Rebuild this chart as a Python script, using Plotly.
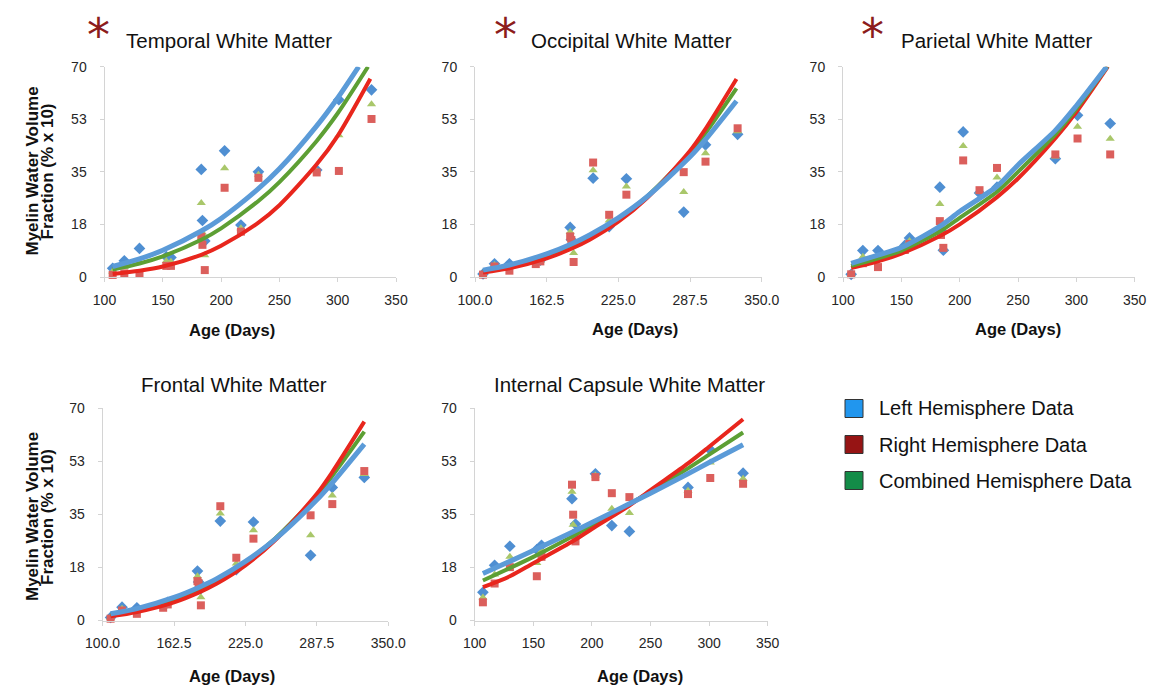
import plotly.graph_objects as go

W, H = 1157, 689

# ---------------- data ----------------
DAYS = [107, 117, 130, 153, 157, 183, 184, 186, 203, 217, 232, 282, 301, 329]

TEMPORAL_LEFT = [2.9, 5.4, 9.5, 6.8, 6.5, 35.8, 18.8, 12.0, 42.0, 17.3, 35.0, 35.6, 59.0, 62.3]
TEMPORAL_RIGHT = [0.7, 1.2, 1.0, 3.7, 3.7, 13.4, 10.7, 2.3, 29.7, 15.1, 33.0, 34.8, 35.3, 52.6]
TEMPORAL_COMBINED = [1.8, 3.3, 5.2, 5.3, 5.1, 24.6, 14.7, 7.2, 36.2, 16.2, 34.0, 35.2, 47.2, 57.5]

OCCIPITAL_LEFT = [1.0, 4.4, 4.4, 5.0, 5.6, 16.5, 12.4, 11.0, 32.9, 16.8, 32.7, 21.6, 44.0, 47.5]
OCCIPITAL_RIGHT = [0.8, 3.5, 2.1, 4.3, 5.2, 13.5, 12.3, 5.0, 38.1, 20.7, 27.4, 34.9, 38.4, 49.5]
OCCIPITAL_COMBINED = [0.9, 4.0, 3.3, 4.7, 5.4, 15.0, 12.4, 8.0, 35.5, 18.8, 30.1, 28.3, 41.2, 48.5]

PARIETAL_LEFT = [0.9, 8.8, 8.8, 10.5, 13.0, 29.9, 15.5, 8.9, 48.3, 28.0, 29.9, 39.4, 53.8, 51.1]
PARIETAL_RIGHT = [0.9, 4.6, 3.3, 9.0, 11.0, 18.6, 14.0, 9.7, 38.8, 28.9, 36.3, 40.8, 46.1, 40.8]
PARIETAL_COMBINED = [0.9, 6.7, 6.0, 9.8, 12.0, 24.3, 14.8, 9.3, 43.6, 28.5, 33.1, 40.1, 50.0, 46.0]

FRONTAL_LEFT = [1.0, 4.4, 4.2, 5.0, 6.0, 16.3, 12.7, 10.5, 32.8, 16.8, 32.5, 21.5, 43.9, 47.2]
FRONTAL_RIGHT = [0.6, 3.3, 2.2, 4.2, 5.3, 13.0, 12.3, 5.0, 37.7, 20.7, 27.0, 34.7, 38.4, 49.3]
FRONTAL_COMBINED = [0.8, 3.9, 3.2, 4.6, 5.6, 14.6, 12.5, 7.7, 35.3, 18.8, 29.8, 28.1, 41.2, 48.3]

CAPSULE_LEFT = [9.3, 18.2, 24.5, 23.4, 24.8, 40.2, 28.3, 31.8, 48.4, 31.3, 29.4, 43.9, 56.3, 48.6]
CAPSULE_RIGHT = [6.0, 12.2, 17.6, 14.6, 21.0, 44.8, 34.9, 26.1, 47.3, 42.0, 40.7, 41.7, 47.0, 45.1]
CAPSULE_COMBINED = [7.6, 15.2, 21.0, 19.0, 22.9, 42.5, 31.6, 29.0, 47.8, 36.9, 35.5, 42.8, 52.1, 46.8]

# trend lines (read at several ages)
TEMPORAL_FIT_LEFT_X = [107, 130, 150, 183, 200, 232, 250, 282, 300, 318]
TEMPORAL_FIT_LEFT = [3.5, 6.0, 8.9, 15.3, 19.5, 29.4, 36.0, 50.3, 59.6, 70.0]
TEMPORAL_FIT_RIGHT_X = [107, 130, 150, 183, 200, 232, 250, 282, 300, 328]
TEMPORAL_FIT_RIGHT = [1.0, 2.1, 3.5, 7.4, 10.4, 18.1, 23.9, 37.5, 47.0, 66.0]
TEMPORAL_FIT_COMBINED_X = [107, 130, 150, 183, 200, 232, 250, 282, 300, 326]
TEMPORAL_FIT_COMBINED = [2.5, 4.5, 6.9, 12.4, 16.2, 25.3, 31.6, 45.3, 54.5, 70.0]

OCCIPITAL_FIT_X = [107, 130, 162.5, 184, 200, 225, 250, 287.5, 300, 328]
OCCIPITAL_FIT_LEFT = [2.3, 4.0, 7.7, 11.0, 14.0, 19.7, 26.7, 40.0, 45.3, 58.6]
OCCIPITAL_FIT_RIGHT = [1.5, 2.9, 6.2, 9.4, 12.4, 18.4, 26.3, 42.0, 48.7, 65.9]
OCCIPITAL_FIT_COMBINED = [1.9, 3.5, 7.0, 10.3, 13.4, 19.3, 26.8, 41.4, 47.4, 62.8]

PARIETAL_FIT_LEFT_X = [107, 130, 150, 184, 200, 232, 250, 282, 300, 326]
PARIETAL_FIT_LEFT = [4.5, 7.3, 9.8, 17.1, 21.8, 30.2, 37.3, 48.8, 57.0, 70.0]
PARIETAL_FIT_RIGHT_X = [107, 130, 150, 184, 200, 232, 250, 282, 300, 327]
PARIETAL_FIT_RIGHT = [3.0, 5.2, 7.8, 13.8, 17.5, 26.6, 32.8, 46.2, 54.9, 70.0]
PARIETAL_FIT_COMBINED_X = [107, 130, 150, 184, 200, 232, 250, 282, 300, 326.5]
PARIETAL_FIT_COMBINED = [3.7, 6.2, 8.8, 15.4, 19.7, 28.4, 35.0, 47.5, 56.0, 70.0]

FRONTAL_FIT_X = [107, 130, 162.5, 184, 200, 225, 250, 287.5, 300, 329]
FRONTAL_FIT_LEFT = [2.2, 3.9, 7.6, 10.9, 13.8, 19.5, 26.5, 39.8, 45.0, 58.2]
FRONTAL_FIT_RIGHT = [1.4, 2.8, 6.0, 9.2, 12.2, 18.2, 26.1, 41.8, 48.4, 65.6]
FRONTAL_FIT_COMBINED = [1.8, 3.4, 6.9, 10.2, 13.3, 19.2, 26.7, 41.2, 47.2, 62.3]

CAPSULE_FIT_X = [107, 130, 150, 184, 200, 232, 250, 282, 300, 329]
CAPSULE_FIT_LEFT = [15.5, 19.5, 23.1, 29.3, 32.3, 38.5, 42.0, 48.4, 52.1, 58.0]
CAPSULE_FIT_RIGHT = [11.0, 14.6, 18.9, 26.2, 30.2, 37.9, 43.0, 51.8, 57.3, 66.4]
CAPSULE_FIT_COMBINED = [13.2, 17.3, 21.0, 27.9, 31.3, 38.4, 42.5, 50.2, 54.7, 62.0]

Y_TICKS = [0, 17.5, 35, 52.5, 70]
Y_TICK_TEXT = ["0", "18", "35", "53", "70"]
X_TICKS_A = [100, 150, 200, 250, 300, 350]
X_TICK_TEXT_A = ["100", "150", "200", "250", "300", "350"]
X_TICKS_B = [100, 162.5, 225, 287.5, 350]
X_TICK_TEXT_B = ["100.0", "162.5", "225.0", "287.5", "350.0"]

TITLES = ["Temporal White Matter", "Occipital White Matter", "Parietal White Matter",
          "Frontal White Matter", "Internal Capsule White Matter"]
LEGEND_NAMES = ["Left Hemisphere Data", "Right Hemisphere Data", "Combined Hemisphere Data"]

# ---------------- styling ----------------
FONT = "Liberation Sans, Arial, Helvetica, sans-serif"
MK = {
    "left": dict(symbol="diamond", color="#4f8fd2", size=9),
    "right": dict(symbol="square", color="#db5f5c", size=8),
    "combined": dict(symbol="triangle-up", color="#a9c76a", size=8),
}
LN = {
    "left": dict(color="#5b9bd8", width=5),
    "right": dict(color="#e8261d", width=4),
    "combined": dict(color="#5d9f34", width=4),
}
LEGEND_COLORS = ["#2196ee", "#961414", "#138c48"]

# the page places the figure 8px in from the top-left corner
OX, OY = 8, 8


def px(x):
    return (x - OX) / W


def py(y):
    return 1 - (y - OY) / H


panels = [
    dict(title=TITLES[0], star=True, xd=(104.5, 396), yd=(277, 66.7), xt=(X_TICKS_A, X_TICK_TEXT_A),
         left=TEMPORAL_LEFT, right=TEMPORAL_RIGHT, comb=TEMPORAL_COMBINED,
         fits=[(TEMPORAL_FIT_COMBINED_X, TEMPORAL_FIT_COMBINED, "combined"),
               (TEMPORAL_FIT_RIGHT_X, TEMPORAL_FIT_RIGHT, "right"),
               (TEMPORAL_FIT_LEFT_X, TEMPORAL_FIT_LEFT, "left")],
         tx=229, ty=40, sx=98, ax=232, ay=330),
    dict(title=TITLES[1], star=True, xd=(475, 761.7), yd=(277, 66.7), xt=(X_TICKS_B, X_TICK_TEXT_B),
         left=OCCIPITAL_LEFT, right=OCCIPITAL_RIGHT, comb=OCCIPITAL_COMBINED,
         fits=[(OCCIPITAL_FIT_X, OCCIPITAL_FIT_COMBINED, "combined"),
               (OCCIPITAL_FIT_X, OCCIPITAL_FIT_RIGHT, "right"),
               (OCCIPITAL_FIT_X, OCCIPITAL_FIT_LEFT, "left")],
         tx=631, ty=40, sx=505, ax=635, ay=329),
    dict(title=TITLES[2], star=True, xd=(843, 1134.7), yd=(277, 66.7), xt=(X_TICKS_A, X_TICK_TEXT_A),
         left=PARIETAL_LEFT, right=PARIETAL_RIGHT, comb=PARIETAL_COMBINED,
         fits=[(PARIETAL_FIT_RIGHT_X, PARIETAL_FIT_RIGHT, "right"),
               (PARIETAL_FIT_COMBINED_X, PARIETAL_FIT_COMBINED, "combined"),
               (PARIETAL_FIT_LEFT_X, PARIETAL_FIT_LEFT, "left")],
         tx=997, ty=40, sx=872, ax=1018, ay=329),
    dict(title=TITLES[3], star=False, xd=(102.6, 388.3), yd=(620.5, 408.3), xt=(X_TICKS_B, X_TICK_TEXT_B),
         left=FRONTAL_LEFT, right=FRONTAL_RIGHT, comb=FRONTAL_COMBINED,
         fits=[(FRONTAL_FIT_X, FRONTAL_FIT_COMBINED, "combined"),
               (FRONTAL_FIT_X, FRONTAL_FIT_RIGHT, "right"),
               (FRONTAL_FIT_X, FRONTAL_FIT_LEFT, "left")],
         tx=234, ty=384, sx=None, ax=232, ay=676),
    dict(title=TITLES[4], star=False, xd=(474.7, 767.7), yd=(620.5, 408.3), xt=(X_TICKS_A, X_TICK_TEXT_A),
         left=CAPSULE_LEFT, right=CAPSULE_RIGHT, comb=CAPSULE_COMBINED,
         fits=[(CAPSULE_FIT_X, CAPSULE_FIT_COMBINED, "combined"),
               (CAPSULE_FIT_X, CAPSULE_FIT_RIGHT, "right"),
               (CAPSULE_FIT_X, CAPSULE_FIT_LEFT, "left")],
         tx=629, ty=384, sx=None, ax=640, ay=676),
]

fig = go.Figure()
annotations = []
shapes = []
layout_axes = {}

for i, p in enumerate(panels, start=1):
    xa = "x" if i == 1 else f"x{i}"
    ya = "y" if i == 1 else f"y{i}"
    # markers
    for key, vals, name in (("left", p["left"], LEGEND_NAMES[0]),
                            ("combined", p["comb"], LEGEND_NAMES[2]),
                            ("right", p["right"], LEGEND_NAMES[1])):
        fig.add_trace(go.Scatter(
            x=DAYS, y=vals, mode="markers", name=name, showlegend=False,
            marker=dict(symbol=MK[key]["symbol"], color=MK[key]["color"], size=MK[key]["size"],
                        line=dict(width=0)),
            cliponaxis=False, xaxis=xa, yaxis=ya))
    # fitted curves
    for fx, fy, key in p["fits"]:
        fig.add_trace(go.Scatter(
            x=fx, y=fy, mode="lines", showlegend=False,
            line=dict(color=LN[key]["color"], width=LN[key]["width"], shape="spline", smoothing=0.8),
            cliponaxis=True, xaxis=xa, yaxis=ya))

    axis_common = dict(showline=True, linecolor="#d4d4d4", linewidth=1, ticks="outside",
                       ticklen=4, tickcolor="#d4d4d4", showgrid=False, zeroline=False,
                       automargin=False,
                       tickfont=dict(family=FONT, size=14, color="#262626"))
    layout_axes["xaxis" if i == 1 else f"xaxis{i}"] = dict(
        axis_common, domain=[px(p["xd"][0]), px(p["xd"][1])], range=[100, 350],
        tickvals=p["xt"][0], ticktext=p["xt"][1], anchor=ya, ticklabelstandoff=6)
    layout_axes["yaxis" if i == 1 else f"yaxis{i}"] = dict(
        axis_common, domain=[py(p["yd"][0]), py(p["yd"][1])], range=[0, 70],
        tickvals=Y_TICKS, ticktext=Y_TICK_TEXT, anchor=xa, ticklabelstandoff=10)

    annotations.append(dict(text=p["title"], x=px(p["tx"]), y=py(p["ty"]), xref="paper", yref="paper",
                            showarrow=False, xanchor="center", yanchor="middle",
                            font=dict(family=FONT, size=20.5, color="#111111")))
    if p["star"]:
        annotations.append(dict(text="*", x=px(p["sx"]), y=py(35), xref="paper", yref="paper",
                                showarrow=False, xanchor="center", yanchor="middle",
                                font=dict(family="DejaVu Sans", size=46, color="#8c1c1c")))
    annotations.append(dict(text="<b>Age (Days)</b>", x=px(p["ax"]), y=py(p["ay"]), xref="paper",
                            yref="paper", showarrow=False, xanchor="center", yanchor="middle",
                            font=dict(family=FONT, size=16.5, color="#111111")))

# y-axis titles (left column)
for cy in (171.5, 517):
    annotations.append(dict(text="<b>Myelin Water Volume</b>", x=px(32), y=py(cy), xref="paper",
                            yref="paper", showarrow=False, textangle=-90, xanchor="center",
                            yanchor="middle", font=dict(family=FONT, size=17, color="#111111")))
    annotations.append(dict(text="<b>Fraction (% x 10)</b>", x=px(47), y=py(cy), xref="paper",
                            yref="paper", showarrow=False, textangle=-90, xanchor="center",
                            yanchor="middle", font=dict(family=FONT, size=17, color="#111111")))

# legend (manual)
for name, col, cy in zip(LEGEND_NAMES, LEGEND_COLORS, (408.5, 444.5, 480.5)):
    shapes.append(dict(type="rect", xref="paper", yref="paper",
                       x0=px(845), x1=px(863), y0=py(cy + 9), y1=py(cy - 9),
                       fillcolor=col, line=dict(color="#333333", width=1)))
    annotations.append(dict(text=name, x=px(877), y=py(cy), xref="paper", yref="paper",
                            showarrow=False, xanchor="left", yanchor="middle",
                            font=dict(family=FONT, size=20, color="#111111")))

fig.update_layout(
    width=W, height=H, margin=dict(l=0, r=0, t=0, b=0, autoexpand=False),
    paper_bgcolor="white", plot_bgcolor="white", showlegend=False,
    annotations=annotations, shapes=shapes, **layout_axes)

fig.write_html("out.html", config={"displayModeBar": False})
